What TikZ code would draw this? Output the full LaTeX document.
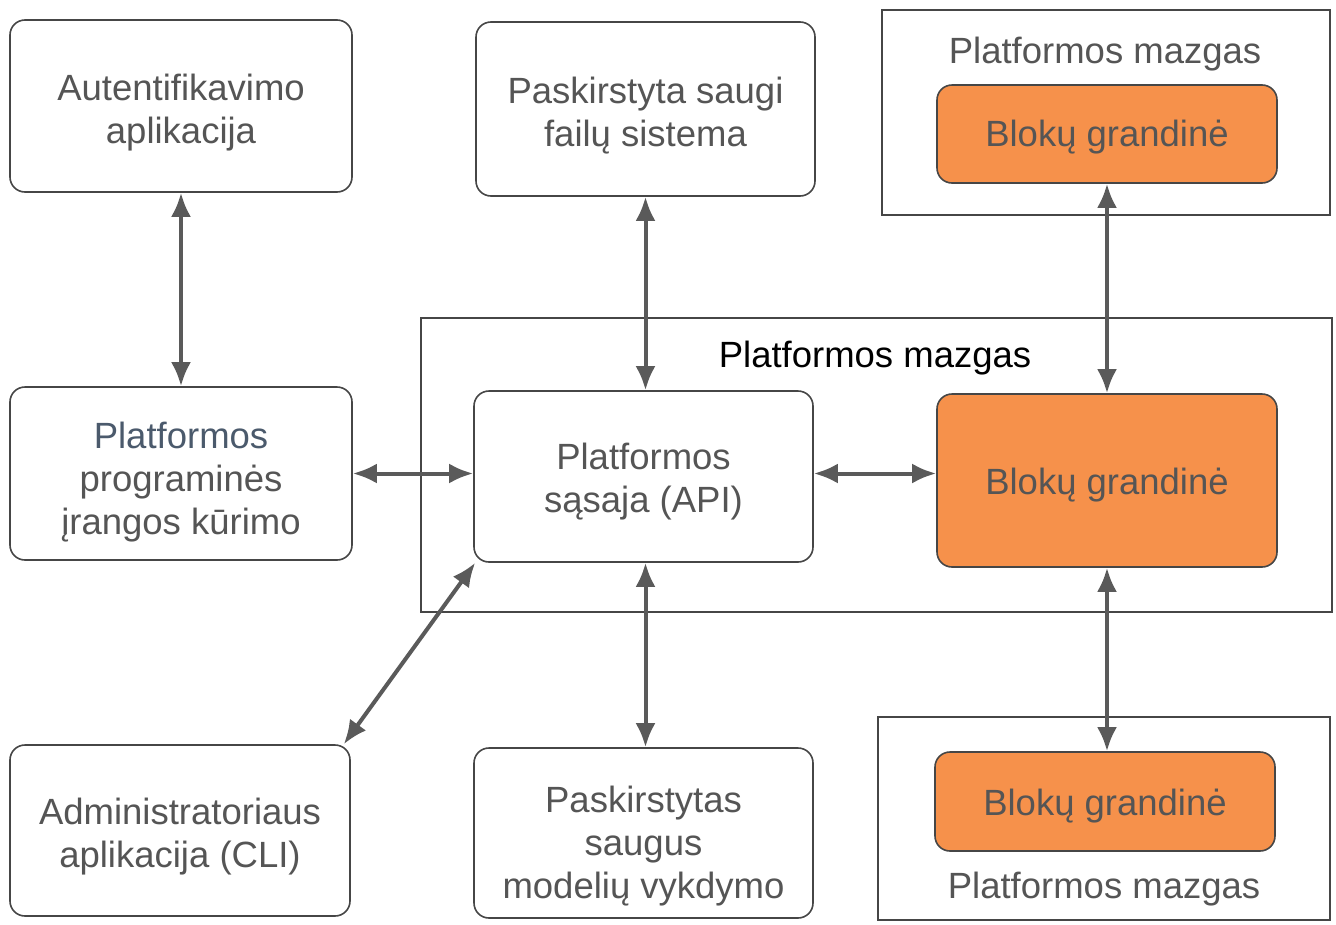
\documentclass[tikz,border=0pt]{standalone}
\usepackage{fontspec}
\setmainfont{Liberation Sans}
\usetikzlibrary{arrows.meta,calc}
\definecolor{txt}{RGB}{85,85,85}
\definecolor{edge}{RGB}{70,70,70}
\definecolor{arr}{RGB}{90,90,90}
\definecolor{orangefill}{RGB}{246,145,75}
\definecolor{bluegray}{RGB}{75,90,108}
\newcommand\boxtext[2][-6pt]{\raisebox{#1}[\height][\depth]{\begin{tabular}{@{}c@{}}#2\end{tabular}}}
\tikzset{
  box/.style={draw=edge, line width=1.6pt, rounded corners=15pt, fill=white, align=center,
    text=txt, font=\fontsize{36.5}{43}\selectfont, inner sep=0pt},
  chain/.style={box, fill=orangefill},
  frame/.style={draw=edge, line width=1.4pt},
  title/.style={text=txt, font=\fontsize{36.5}{43}\selectfont, inner sep=0pt},
  link/.style={draw=arr, line width=4pt, arrows={Latex[length=24pt,width=20pt]-Latex[length=24pt,width=20pt]}}
}
\begin{document}
\begin{tikzpicture}[x=1pt,y=-1pt]
\useasboundingbox (0,0) rectangle (1336,924);
\fill[white] (0,0) rectangle (1336,924);
% frames
\draw[frame] (882,10) rectangle (1330,215);
\draw[frame] (421,318) rectangle (1332,612);
\draw[frame] (878,717) rectangle (1330,920);
\node[title] (t1) at (1105,54) {Platformos mazgas};
\node[title, text=black] (t2) at (875,358) {Platformos mazgas};
\node[title] (t3) at (1104,889) {Platformos mazgas};
% boxes
\node[box, minimum width=342pt, minimum height=172pt] (auth) at (181,106) {\boxtext[-7pt]{Autentifikavimo\\aplikacija}};
\node[box, minimum width=339pt, minimum height=174pt] (dfs) at (645.5,109) {\boxtext[-7pt]{Paskirstyta saugi\\failų sistema}};
\node[chain, minimum width=340pt, minimum height=98pt] (bc1) at (1107,134) {\boxtext[-4pt]{Blokų grandinė}};
\node[box, minimum width=342pt, minimum height=173pt] (sdk) at (181,473.5) {\boxtext[-9pt]{\textcolor{bluegray}{Platformos}\\programinės\\įrangos kūrimo}};
\node[box, minimum width=339pt, minimum height=171pt] (api) at (643.5,476.5) {\boxtext[-6pt]{Platformos\\sąsaja (API)}};
\node[chain, minimum width=340pt, minimum height=173pt] (bc2) at (1107,480.5) {\boxtext[-5pt]{Blokų grandinė}};
\node[box, minimum width=340pt, minimum height=171pt] (admin) at (180,830.5) {\boxtext[-7pt]{Administratoriaus\\aplikacija (CLI)}};
\node[box, minimum width=339pt, minimum height=170pt] (exec) at (643.5,833) {\boxtext[-14pt]{Paskirstytas\\saugus\\modelių vykdymo}};
\node[chain, minimum width=340pt, minimum height=99pt] (bc3) at (1105,801.5) {\boxtext[-5pt]{Blokų grandinė}};
% connectors
\draw[link] (auth.south) -- (sdk.north);
\draw[link] (dfs.south) -- (dfs.south |- api.north);
\draw[link] (bc1.south) -- (bc2.north);
\draw[link] (sdk.east) -- (sdk.east -| api.west);
\draw[link] ([yshift=3pt]api.east) -- ([yshift=3pt]api.east -| bc2.west);
\draw[link] ([xshift=2pt]api.south west) -- ([xshift=-7pt]admin.north east);
\draw[link] ([xshift=2pt]api.south) -- ([xshift=2pt]api.south |- exec.north);
\draw[link] (bc2.south) -- (bc2.south |- bc3.north);
\end{tikzpicture}
\end{document}
